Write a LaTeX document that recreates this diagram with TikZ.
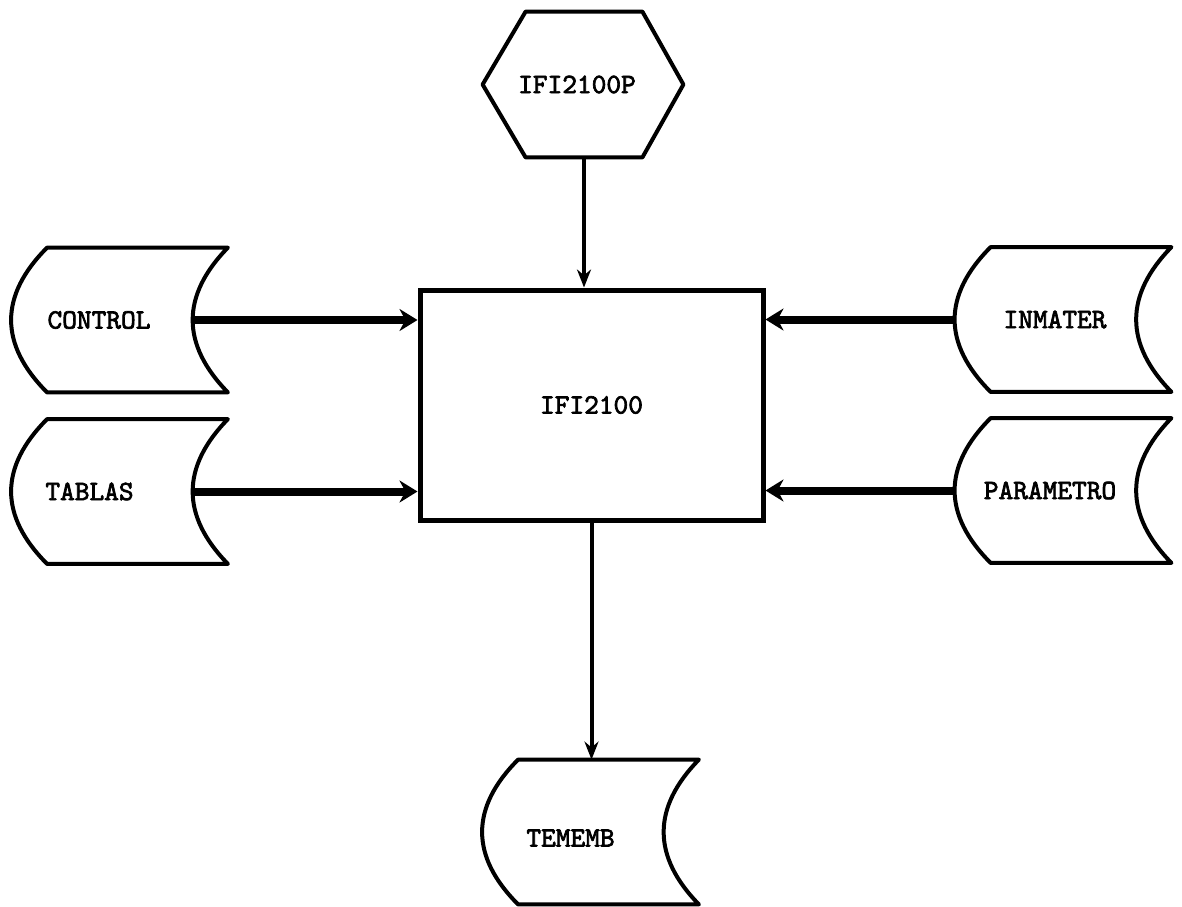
\documentclass[tikz,border=0pt]{standalone}
\usepackage{fontspec}
\newfontfamily\filefont{lmmono10-regular}[Extension=.otf,FakeBold=2.5]
\usetikzlibrary{arrows.meta}
\tikzset{
  filebox/.style={minimum width=90pt,minimum height=72pt,inner sep=0pt},
  outline/.style={line width=2pt,line join=round},
  lbl/.style={font=\filefont\fontsize{14}{16}\selectfont},
  flow/.style={line width=2pt,-{Stealth[length=9pt,width=7pt]}},
  fatflow/.style={line width=4pt,-{Stealth[length=9pt,width=11pt]}},
}
\begin{document}
\begin{tikzpicture}[x=0.5pt,y=-0.5pt]
 \useasboundingbox (0,0) rectangle (1182,906);
 % program and main process
 \node[inner sep=0pt,minimum width=58pt,minimum height=72.5pt,
   label={[lbl,xshift=-3.5pt]center:IFI2100P}] (prog) at (584,84.5) {};
 \draw[outline] (prog.north west) -- (prog.north east) -- ([xshift=20.5pt]prog.east)
   -- (prog.south east) -- (prog.south west) -- ([xshift=-21.5pt]prog.west) -- cycle;
 \node[draw,line width=2.5pt,minimum width=171.5pt,minimum height=115pt,lbl]
   (main) at (591.5,405) {IFI2100};
 % files
 \node[filebox,label={[lbl,xshift=-19.25pt]center:CONTROL}] (control) at (137.5,320) {};
 \node[filebox,label={[lbl,xshift=-24pt]center:TABLAS}] (tablas) at (137.5,491.5) {};
 \node[filebox,label={[lbl,xshift=-13pt]center:INMATER}] (inmater) at (1081,319.5) {};
 \node[filebox,label={[lbl,xshift=-15.5pt]center:PARAMETRO}] (parametro) at (1081,490.5) {};
 \node[filebox,label={[lbl,xshift=-19pt,yshift=-3pt]center:TEMEMB}] (tememb) at (608.5,832) {};
 \foreach \f in {control,tablas,inmater,parametro,tememb}
   \draw[outline] (\f.north west) .. controls +(-48,48) and +(-48,-48) .. (\f.south west)
     -- (\f.south east) .. controls +(-47,-48) and +(-47,48) .. (\f.north east) -- cycle;
 % flows
 \draw[flow] (prog.south) -- (prog.south |- main.north);
 \draw[flow] (main.south) -- (main.south |- tememb.north);
 \draw[fatflow] ([xshift=-17.6pt]control.east) -- (control.east -| main.west);
 \draw[fatflow] ([xshift=-17.6pt]tablas.east) -- (tablas.east -| main.west);
 \draw[fatflow] ([xshift=-18pt]inmater.west) -- (inmater.west -| main.east);
 \draw[fatflow] ([xshift=-18pt]parametro.west) -- (parametro.west -| main.east);
\end{tikzpicture}
\end{document}
